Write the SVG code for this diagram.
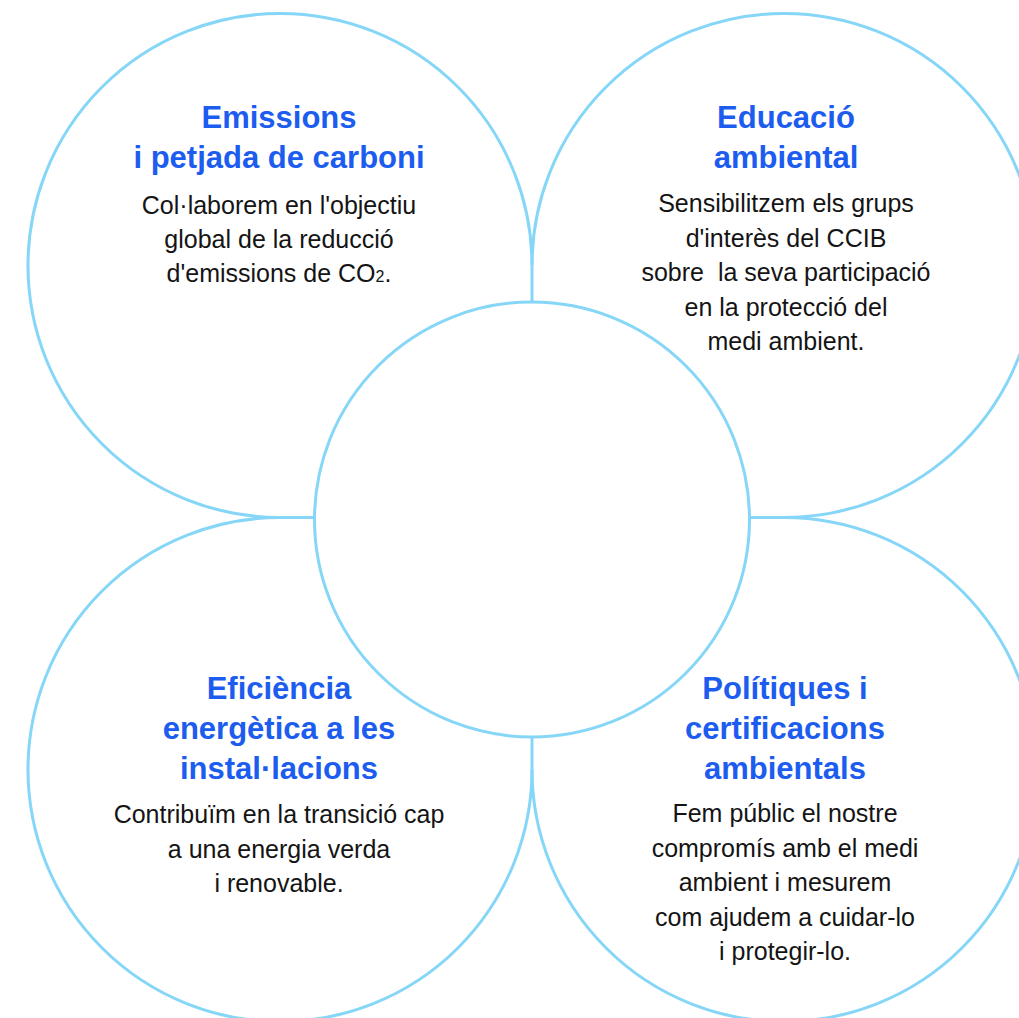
<svg xmlns="http://www.w3.org/2000/svg" width="1019" height="1018" viewBox="0 0 1019 1018">
<style>
.ring{fill:none;stroke:#86d6f8;stroke-width:3}
.t{font-family:"Liberation Sans",Arial,sans-serif;font-weight:bold;font-size:31px;fill:#1c5cef;text-anchor:middle}
.b{font-family:"Liberation Sans",Arial,sans-serif;font-size:25px;fill:#141414;text-anchor:middle}
</style>
<rect width="1019" height="1018" fill="#ffffff"/>
<g id="connectors">
<path class="ring" d="M532 265.5V302"/>
<path class="ring" d="M749.5 517.5H784"/>
<path class="ring" d="M532 737V769.5"/>
<path class="ring" d="M280 517.5H314.5"/>
</g>
<g id="center">
<circle class="ring" cx="532" cy="519.5" r="217.5"/>
</g>
<g id="emissions">
<path class="ring" d="M532 265.5A252 252 0 1 0 280 517.5"/>
<text class="t" x="279" y="128">Emissions</text>
<text class="t" x="279" y="168">i petjada de carboni</text>
<text class="b" x="279" y="214">Col·laborem en l'objectiu</text>
<text class="b" x="279" y="248">global de la reducció</text>
<text class="b" x="279" y="282">d'emissions de CO<tspan font-size="16">2</tspan>.</text>
</g>
<g id="educacio">
<path class="ring" d="M784 517.5A252 252 0 1 0 532 265.5"/>
<text class="t" x="786" y="128">Educació</text>
<text class="t" x="786" y="168">ambiental</text>
<text class="b" x="786" y="212">Sensibilitzem els grups</text>
<text class="b" x="786" y="246.5">d'interès del CCIB</text>
<text class="b" x="786" y="281">sobre&#160; la seva participació</text>
<text class="b" x="786" y="315.5">en la protecció del</text>
<text class="b" x="786" y="350">medi ambient.</text>
</g>
<g id="eficiencia">
<path class="ring" d="M280 517.5A252 252 0 1 0 532 769.5"/>
<text class="t" x="279" y="699">Eficiència</text>
<text class="t" x="279" y="739">energètica a les</text>
<text class="t" x="279" y="778.5">instal·lacions</text>
<text class="b" x="279" y="823">Contribuïm en la transició cap</text>
<text class="b" x="279" y="857.5">a una energia verda</text>
<text class="b" x="279" y="892">i renovable.</text>
</g>
<g id="politiques">
<path class="ring" d="M532 769.5A252 252 0 1 0 784 517.5"/>
<text class="t" x="785" y="699">Polítiques i</text>
<text class="t" x="785" y="739">certificacions</text>
<text class="t" x="785" y="778.5">ambientals</text>
<text class="b" x="785" y="822">Fem públic el nostre</text>
<text class="b" x="785" y="856.5">compromís amb el medi</text>
<text class="b" x="785" y="891">ambient i mesurem</text>
<text class="b" x="785" y="925.5">com ajudem a cuidar-lo</text>
<text class="b" x="785" y="960">i protegir-lo.</text>
</g>
</svg>
